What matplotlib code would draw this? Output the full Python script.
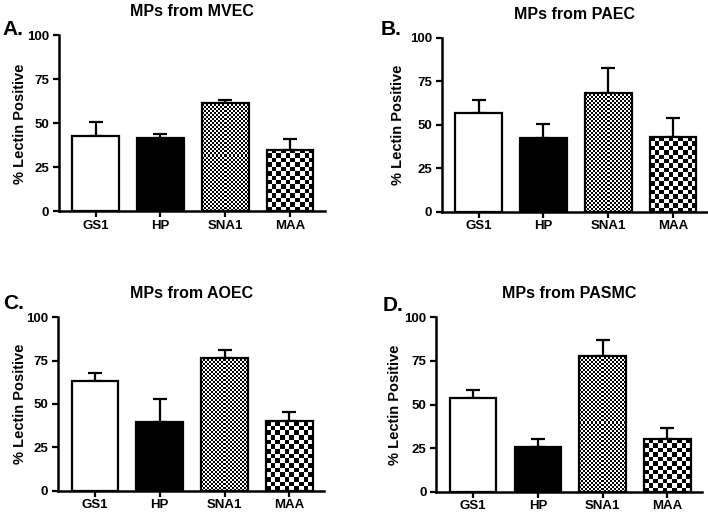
import numpy as np
import matplotlib
matplotlib.use("Agg")
import matplotlib.pyplot as plt

plt.rcParams['font.family'] = ['Liberation Sans', 'DejaVu Sans']
plt.rcParams['font.weight'] = 'bold'

# ---- data ----
lectins = ["GS1", "HP", "SNA1", "MAA"]
panel_letters = ["A.", "B.", "C.", "D."]
panel_titles = ["MPs from MVEC", "MPs from PAEC", "MPs from AOEC", "MPs from PASMC"]

mvec_mean = [43, 41.5, 61.5, 35]
mvec_sem = [7.5, 2.5, 2, 6]
paec_mean = [57, 42.5, 68.5, 43]
paec_sem = [7.5, 8, 14, 11]
aoec_mean = [63, 39.5, 76.5, 40]
aoec_sem = [5, 13.5, 4.5, 5.5]
pasmc_mean = [54, 25.5, 78, 30]
pasmc_sem = [4.5, 4.5, 9, 6.5]

yticks = [0, 25, 50, 75, 100]

means = [mvec_mean, paec_mean, aoec_mean, pasmc_mean]
sems = [mvec_sem, paec_sem, aoec_sem, pasmc_sem]

# fill style per lectin: solid face or checker cell size (px)
fills = ["white", "black", 2, 4.5]

# axes boxes in figure fractions [left, bottom, width, height]
boxes = [[0.083, 0.588, 0.376, 0.343],
         [0.624, 0.587, 0.376, 0.339],
         [0.082, 0.043, 0.376, 0.339],
         [0.616, 0.041, 0.376, 0.341]]
letter_pos = [(0.004, 0.932), (0.538, 0.932), (0.004, 0.398), (0.541, 0.394)]
ylabel_x = [-0.12, -0.14, -0.117, -0.128]

fig = plt.figure(figsize=(7.08, 5.13), dpi=100)


def checker_fill(ax, patch, cell):
    # paint a checkerboard inside one bar
    x0, w, h = patch.get_x(), patch.get_width(), patch.get_height()
    p0 = ax.transData.transform((x0, 0))
    p1 = ax.transData.transform((x0 + w, h))
    nx = max(1, int(round(abs(p1[0] - p0[0]) / cell)))
    ny = max(1, int(round(abs(p1[1] - p0[1]) / cell)))
    ii, jj = np.indices((ny, nx))
    board = (ii + jj) % 2
    ax.imshow(board, cmap='gray', extent=[x0, x0 + w, 0, h], origin='lower',
              interpolation='nearest', aspect='auto', zorder=2)


for k in range(4):
    ax = fig.add_axes(boxes[k])
    x = np.arange(len(lectins))
    ax.set_xlim(-0.57, 3.54)
    ax.set_ylim(0, 100)

    ax.errorbar(x, means[k], yerr=[np.zeros(4), sems[k]], fmt='none',
                ecolor='black', elinewidth=1.6, capsize=5, capthick=1.6, zorder=1)

    bars = ax.bar(x, means[k], width=0.72, color='white', edgecolor='black',
                  linewidth=1.6, zorder=3)
    for b, f in zip(bars, fills):
        if isinstance(f, str):
            b.set_facecolor(f)
        else:
            b.set_facecolor('none')
            checker_fill(ax, b, f)

    ax.set_xlim(-0.57, 3.54)
    ax.set_ylim(0, 100)
    ax.set_xticks(x)
    ax.set_xticklabels(lectins, fontsize=9.5, fontweight='bold')
    ax.set_yticks(yticks)
    ax.set_yticklabels([str(t) for t in yticks], fontsize=9.5, fontweight='bold')
    ax.tick_params(direction='out', length=4, width=1.6, pad=3)
    ax.tick_params(axis='x', pad=2)

    for s in ['top', 'right']:
        ax.spines[s].set_visible(False)
    for s in ['left', 'bottom']:
        ax.spines[s].set_linewidth(1.8)

    ax.set_ylabel("% Lectin Positive", fontsize=10.5, fontweight='bold')
    ax.yaxis.set_label_coords(ylabel_x[k], 0.5)
    ax.set_title(panel_titles[k], fontsize=11.5, fontweight='bold', pad=14)

    fig.text(letter_pos[k][0], letter_pos[k][1], panel_letters[k],
             fontsize=15, fontweight='bold', va='baseline')

fig.savefig("out.png", dpi=100)
